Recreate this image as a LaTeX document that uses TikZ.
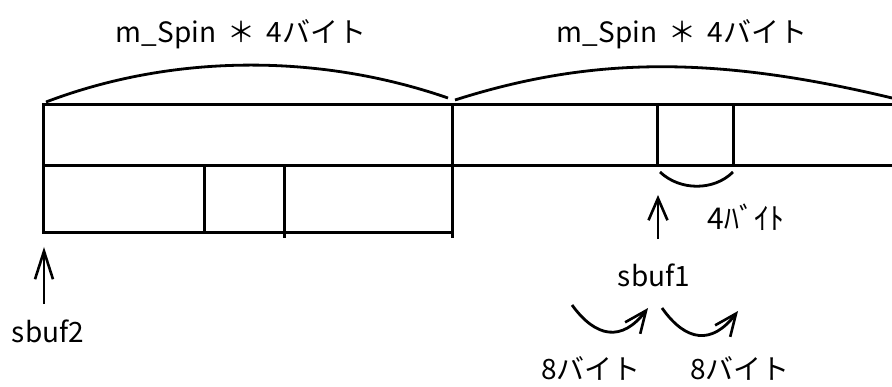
\documentclass[tikz,border=0pt]{standalone}
\usepackage{fontspec}
\setmainfont{Noto Sans CJK JP}
\usepackage{tikz}
\usetikzlibrary{arrows.meta,positioning,calc}

\begin{document}
\begin{tikzpicture}[
  x=1pt, y=-1pt,
  cell/.style={line width=3pt, line cap=rect},
  curve/.style={line width=2.8pt},
  label/.style={font=\fontsize{28}{30}\selectfont, inner sep=0pt, anchor=base},
  arrow/.style={-{Straight Barb[length=22pt, width=19pt, line width=2.6pt]}, line width=2.8pt}
]
\useasboundingbox (0,0) rectangle (892,387);

% memory blocks
\draw[cell] (43,105) -- (892,105);
\draw[cell] (43,166) -- (892,166);
\draw[cell] (43,233) -- (452,233);
\draw[cell] (43,105) -- (43,233);
\draw[cell] (452,105) -- (452,237);
\draw[cell] (204,166) -- (204,233);
\draw[cell] (284,166) -- (284,237);
\draw[cell] (657,105) -- (657,166);
\draw[cell] (733,105) -- (733,166);

% spans
\coordinate (spanL) at (46,102);
\coordinate (spanM) at (448,98);
\coordinate (spanN) at (455,100);
\coordinate (spanR) at (892,98);
\draw[curve] (spanL) .. controls (172,54) and (318,53) .. (spanM);
\draw[curve] (spanN) .. controls (590,57) and (713,55) .. (spanR);
\node[label] (lenL) at (241,43) {m\_Spin\hspace{0.4em}＊\hspace{0.4em}4バイト};
\node[label] (lenR) at (682,43) {m\_Spin\hspace{0.4em}＊\hspace{0.4em}4バイト};

% 4 byte cell
\coordinate (cellA) at (660,172);
\coordinate (cellB) at (733,172);
\draw[curve] (cellA) .. controls (680,191) and (714,191) .. (cellB);
\node[label, font=\fontsize{30}{32}\selectfont] (four) at (746,230) {4ﾊﾞｲﾄ};

% pointers
\node[label] (sbuf1) at (654,287) {sbuf1};
\node[label] (sbuf2) at (48,343) {sbuf2};
\coordinate (tip1) at (658,195);
\coordinate (tip2) at (44,247);
\draw[arrow] (sbuf1.north -| tip1) ++(0,-25) -- (tip1);
\draw[arrow, -{Straight Barb[length=28pt, width=18pt, line width=2.6pt]}] (sbuf2.north -| tip2) ++(0,-16) -- (tip2);

% steps
\coordinate (stepA) at (572,305);
\coordinate (stepB) at (648,308);
\coordinate (stepC) at (662,308);
\coordinate (stepD) at (738,311);
\draw[arrow] (stepA) .. controls (596,338) and (622,342) .. (stepB);
\draw[arrow] (stepC) .. controls (686,342) and (712,345) .. (stepD);
\node[label] (eightL) at (591,380) {8バイト};
\node[label] (eightR) at (740,380) {8バイト};
\end{tikzpicture}
\end{document}
